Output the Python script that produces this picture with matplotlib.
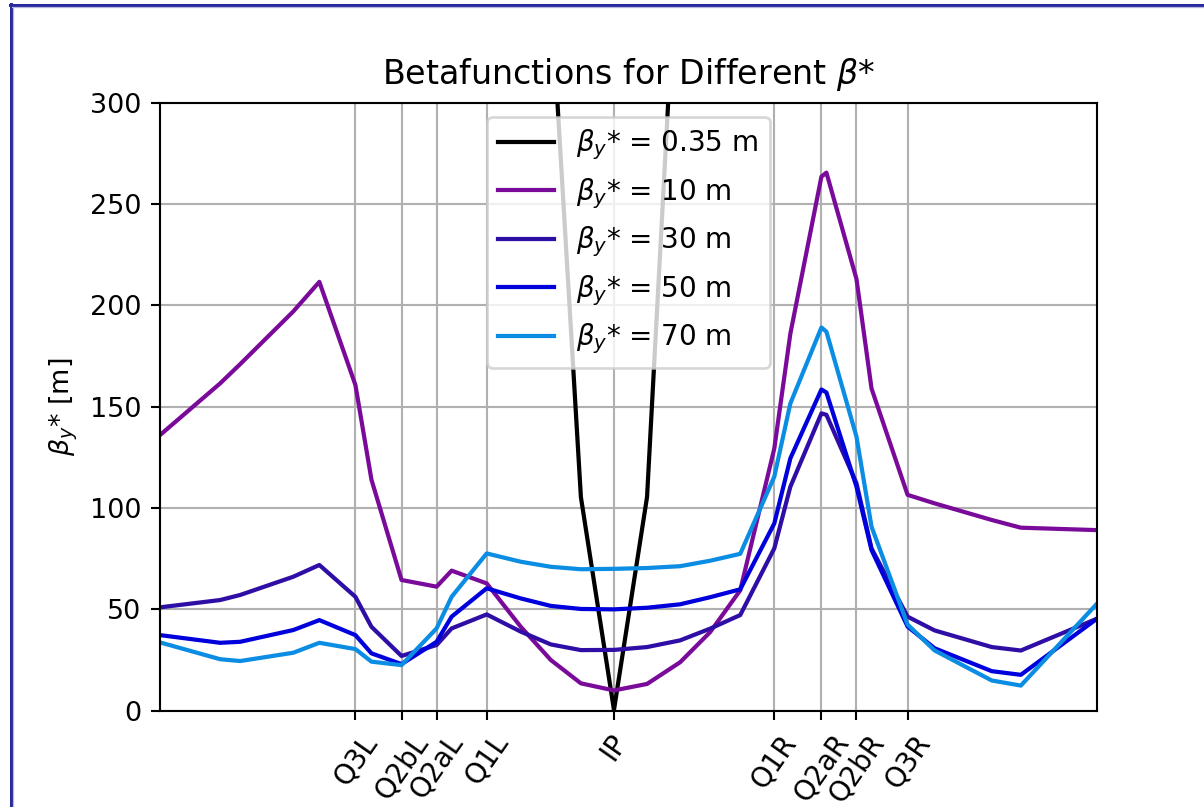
import matplotlib
matplotlib.use("Agg")
import matplotlib.pyplot as plt
from matplotlib.lines import Line2D
import numpy as np

# Longitudinal position along the interaction region (IP at 0)
s = [-22.65, -19.65, -18.65, -16.0, -14.7, -12.9, -12.1, -10.6, -8.85, -8.1,
     -6.35, -4.65, -3.15, -1.65, 0.0, 1.65, 3.3, 4.8, 6.3, 8.0,
     8.8, 10.35, 10.6, 12.1, 12.85, 14.65, 16.0, 18.85, 20.3, 24.1]

# Vertical beta function for each beta* setting
beta_10 = [136.0, 161.5, 171.0, 197.0, 211.6, 160.7, 114.0, 64.5, 61.2, 69.1,
           62.8, 41.4, 25.0, 13.5, 10.0, 13.2, 23.9, 38.8, 59.4, 129.4,
           186.0, 263.5, 265.5, 213.0, 159.0, 106.5, 102.3, 94.1, 90.3, 89.1]
beta_30 = [51.0, 54.6, 57.1, 66.1, 71.9, 56.2, 41.4, 27.0, 32.4, 40.6,
           47.5, 39.0, 32.7, 29.9, 30.0, 31.4, 34.7, 40.5, 47.2, 80.1,
           110.5, 146.7, 146.0, 112.2, 80.1, 46.4, 39.6, 31.4, 29.7, 45.4]
beta_50 = [37.3, 33.5, 34.0, 39.8, 44.7, 37.3, 28.3, 23.0, 34.0, 46.4,
           60.4, 55.4, 51.7, 50.2, 50.0, 50.8, 52.5, 56.0, 59.9, 92.4,
           124.5, 158.5, 157.0, 110.5, 79.3, 41.5, 30.8, 19.5, 17.7, 45.4]
beta_70 = [33.7, 25.4, 24.5, 28.6, 33.5, 30.4, 24.2, 22.5, 40.6, 56.2,
           77.6, 73.5, 71.0, 69.8, 70.0, 70.4, 71.3, 74.0, 77.4, 115.5,
           151.6, 189.1, 187.0, 135.2, 90.8, 42.5, 29.7, 14.9, 12.4, 52.8]

# The 0.35 m optics is only shown close to the IP (it leaves the range quickly)
s_035 = [-3.15, -1.65, 0.0, 1.65, 3.3]
beta_035 = [355.0, 105.4, 0.35, 105.4, 410.0]

# Magnet positions used as tick marks
magnet_pos = [-12.9, -10.6, -8.85, -6.35, 0.0, 8.0, 10.35, 12.1, 14.65]
magnet_names = ["Q3L", "Q2bL", "Q2aL", "Q1L", "IP", "Q1R", "Q2aR", "Q2bR", "Q3R"]

labels = [r"$\beta_y$* = 0.35 m", r"$\beta_y$* = 10 m", r"$\beta_y$* = 30 m",
          r"$\beta_y$* = 50 m", r"$\beta_y$* = 70 m"]
colors = ["black", "#7a0b9a", "#2f0ea6", "#0000dc", "#0a8de2"]

DPI = 189
W, H = 1204, 807
fig = plt.figure(figsize=(W / DPI, H / DPI), dpi=DPI)
ax = fig.add_axes([160 / W, (H - 710.7) / H, 937 / W, 608 / H])

series = [(s_035, beta_035), (s, beta_10), (s, beta_30), (s, beta_50), (s, beta_70)]
for (xs, ys), lab, col in zip(series, labels, colors):
    ax.plot(xs, ys, color=col, label=lab, lw=1.6)

ax.set_xlim(s[0], s[-1])
ax.set_ylim(0, 300)
ax.set_xticks(magnet_pos)
ax.set_xticklabels(magnet_names, rotation=55, fontsize=10.5)
ax.tick_params(axis="y", labelsize=10.3)
ax.grid(True)
ax.set_ylabel(r"$\beta_y$* [m]", fontsize=10.3)
ax.set_title(r"Betafunctions for Different $\beta$*", fontsize=12.7, pad=7)
ax.legend(loc="upper center", fontsize=10.6)

# Frame around the figure (top and left edges)
fig.add_artist(Line2D([11 / W, 11 / W], [0, 1 - 3.5 / H], color="#2a2a9c",
                      lw=3 * 72 / DPI, transform=fig.transFigure))
fig.add_artist(Line2D([13 / W, 13 / W], [0, 1 - 6 / H], color="#b8b8e0",
                      lw=1.2 * 72 / DPI, transform=fig.transFigure))
fig.add_artist(Line2D([9.5 / W, 1], [1 - 4.5 / H, 1 - 4.5 / H], color="#2a2a9c",
                      lw=3 * 72 / DPI, transform=fig.transFigure))
fig.add_artist(Line2D([12 / W, 1], [1 - 6.5 / H, 1 - 6.5 / H], color="#b8b8e0",
                      lw=1.2 * 72 / DPI, transform=fig.transFigure))

fig.savefig("out.png", dpi=DPI)
